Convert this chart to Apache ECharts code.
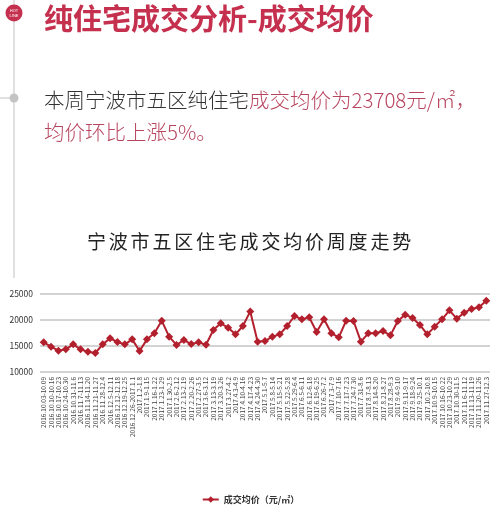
<!DOCTYPE html>
<html>
<head>
<meta charset="utf-8">
<script src="https://cdn.jsdelivr.net/npm/echarts@6/dist/echarts.min.js"></script>
<style>
  html, body { margin: 0; padding: 0; background: #ffffff; }
  body { width: 501px; height: 510px; position: relative; overflow: hidden;
         font-family: "Noto Sans CJK SC", "Noto Sans", sans-serif; }
  #chart { position: absolute; left: 0; top: 0; width: 501px; height: 510px; }
  .txt { position: absolute; white-space: nowrap; }
  #h1 { left: 44px; top: -4px; font-size: 29px; font-weight: 600; color: #c4304d; }
  #p1 { left: 44px; top: 84px; font-size: 20.5px; color: #333; font-weight: 300; }
  #p2 { left: 44px; top: 116px; font-size: 20.5px; color: #b8455f; font-weight: 300; }
  .hl { color: #b8455f; }
  #ct { left: 0; width: 501px; text-align: center; top: 227px; font-size: 19px;
        letter-spacing: 2.8px; color: #222; }
</style>
</head>
<body>
<div id="chart"></div>
<div class="txt" id="h1">纯住宅成交分析-成交均价</div>
<div class="txt" id="p1">本周宁波市五区纯住宅<span class="hl">成交均价为23708元/㎡，</span></div>
<div class="txt" id="p2">均价环比上涨5%。</div>
<div class="txt" id="ct">宁波市五区住宅成交均价周度走势</div>
<script>
const weeks = [
  "2016.10.03-10.09","2016.10.10-10.16","2016.10.17-10.23","2016.10.24-10.30",
  "2016.10.31-11.6","2016.11.7-11.13","2016.11.14-11.20","2016.11.21-11.27",
  "2016.11.28-12.4","2016.12.5-12.11","2016.12.12-12.18","2016.12.19-12.25",
  "2016.12.26-2017.1.1","2017.1.2-1.8","2017.1.9-1.15","2017.1.16-1.22",
  "2017.1.23-1.29","2017.1.30-2.5","2017.2.6-2.12","2017.2.13-2.19",
  "2017.2.20-2.26","2017.2.27-3.5","2017.3.6-3.12","2017.3.13-3.19",
  "2017.3.20-3.26","2017.3.27-4.2","2017.4.3-4.9","2017.4.10-4.16",
  "2017.4.17-4.23","2017.4.24-4.30","2017.5.1-5.7","2017.5.8-5.14",
  "2017.5.15-5.21","2017.5.22-5.28","2017.5.29-6.4","2017.6.5-6.11",
  "2017.6.12-6.18","2017.6.19-6.25","2017.6.26-7.2","2017.7.3-7.9",
  "2017.7.10-7.16","2017.7.17-7.23","2017.7.24-7.30","2017.7.31-8.6",
  "2017.8.7-8.13","2017.8.14-8.20","2017.8.21-8.27","2017.8.28-9.3",
  "2017.9.4-9.10","2017.9.11-9.17","2017.9.18-9.24","2017.9.25-10.1",
  "2017.10.2-10.8","2017.10.9-10.15","2017.10.16-10.22","2017.10.23-10.29",
  "2017.10.30-11.5","2017.11.6-11.12","2017.11.13-11.19","2017.11.20-11.26",
  "2017.11.27-12.3"
];
const avgPrice = [
  15700,14870,14100,14360,15320,14360,13900,13650,15320,16470,
  15770,15320,16280,14040,16280,17440,19870,16800,15200,16150,
  15380,15700,15250,18080,19360,18520,17240,18850,21650,15800,
  15960,16800,17240,18850,20770,20130,20510,17690,20130,17440,
  16670,19870,19810,15830,17440,17440,17880,17050,19810,21030,
  20380,19040,17240,18720,20130,21860,20260,21410,22120,22440,
  23708
];
const yTicks = { min: 10000, max: 25000, interval: 5000 };
const seriesName = "成交均价（元/㎡）";

const chart = echarts.init(document.getElementById('chart'), null, { renderer: 'canvas' });
chart.setOption({
  backgroundColor: '#ffffff',
  animation: false,
  textStyle: { fontFamily: '"Noto Sans CJK SC", "Noto Sans", sans-serif' },
  graphic: [
    { type: 'line', shape: { x1: 14, y1: 0, x2: 14, y2: 278 },
      style: { stroke: '#d6d6d6', lineWidth: 1.5 }, z: 1 },
    { type: 'line', shape: { x1: 0, y1: 98, x2: 14, y2: 98 },
      style: { stroke: '#d6d6d6', lineWidth: 1.5 }, z: 1 },
    { type: 'circle', shape: { cx: 14, cy: 98, r: 4.5 },
      style: { fill: '#c4c4c4' }, z: 2 },
    { type: 'circle', shape: { cx: 14, cy: 13, r: 8.5 },
      style: { fill: '#c4304d' }, z: 2 },
    { type: 'text', x: 14, y: 13, z: 3,
      style: { text: 'HOT\nLINE', fill: '#ffffff', fontSize: 4, lineHeight: 5,
               align: 'center', verticalAlign: 'middle' } }
  ],
  legend: {
    bottom: 1, left: 'center',
    itemWidth: 16, itemHeight: 8,
    textStyle: { fontSize: 9, fontWeight: 'bold', color: '#333' },
    data: [seriesName]
  },
  grid: { left: 40, right: 11, top: 294, bottom: 138, containLabel: false },
  xAxis: {
    type: 'category',
    data: weeks,
    boundaryGap: true,
    axisLine: { show: false },
    axisTick: { show: false },
    axisLabel: { interval: 0, rotate: 90, fontSize: 6.5, color: '#444', margin: 5 }
  },
  yAxis: {
    type: 'value',
    min: yTicks.min, max: yTicks.max, interval: yTicks.interval,
    axisLine: { show: false },
    axisTick: { show: false },
    axisLabel: { fontSize: 8.5, color: '#333', margin: 7, formatter: v => String(v) },
    splitLine: { lineStyle: { color: '#c4c4c4', width: 1.5 } }
  },
  series: [{
    name: seriesName,
    type: 'line',
    data: avgPrice,
    symbol: 'diamond',
    symbolSize: 8,
    lineStyle: { color: '#b3202d', width: 2 },
    itemStyle: { color: '#b3202d' }
  }]
});
</script>
</body>
</html>
